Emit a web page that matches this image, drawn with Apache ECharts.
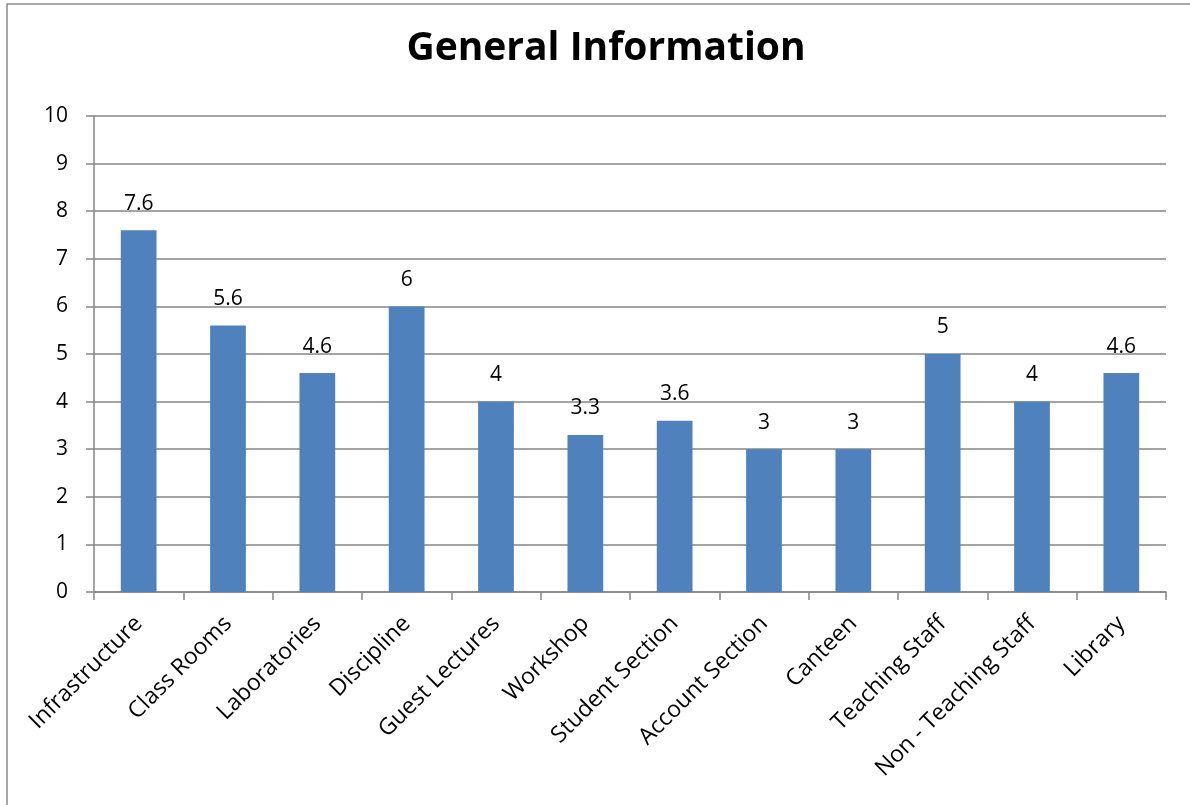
<!DOCTYPE html>
<html>
<head>
<meta charset="utf-8">
<script src="https://cdn.jsdelivr.net/npm/echarts@6/dist/echarts.min.js"></script>
<style>
html,body{margin:0;padding:0;background:#fff;}
#chart{width:1190px;height:805px;}
</style>
</head>
<body>
<div id="chart"></div>
<script>
const categories = ["Infrastructure","Class Rooms","Laboratories","Discipline","Guest Lectures","Workshop","Student Section","Account Section","Canteen","Teaching Staff","Non - Teaching Staff","Library"];
const values = [7.6, 5.6, 4.6, 6, 4, 3.3, 3.6, 3, 3, 5, 4, 4.6];
const yTicks = [0,1,2,3,4,5,6,7,8,9,10];

const chart = echarts.init(document.getElementById('chart'), null, {renderer:'canvas'});
const font = '"Open Sans", "Liberation Sans", sans-serif';
chart.setOption({
  backgroundColor:'#ffffff',
  animation:false,
  title:{
    text:'General Information',
    left:601, top:24, textAlign:'center',
    textStyle:{fontFamily:font, fontSize:39, fontWeight:'bold', color:'#000'}
  },
  graphic:[{
    type:'rect', shape:{x:7, y:4, width:1250, height:900},
    style:{fill:null, stroke:'#8c8c8c', lineWidth:1.5}, silent:true
  }],
  grid:{left:94, right:24, top:116, bottom:213, containLabel:false},
  xAxis:{
    type:'category', data:categories,
    axisLine:{lineStyle:{color:'#868686', width:1.5}},
    axisTick:{show:true, length:8, lineStyle:{color:'#868686', width:1.5}},
    axisLabel:{rotate:45, interval:0, margin:28, fontFamily:font, fontSize:23, color:'#000'}
  },
  yAxis:{
    type:'value', min:0, max:10, interval:1,
    axisLine:{show:true, lineStyle:{color:'#868686', width:1.5}},
    axisTick:{show:true, length:8, lineStyle:{color:'#868686', width:1.5}},
    axisLabel:{margin:26, fontFamily:font, fontSize:21, color:'#000',
      formatter:v => yTicks.includes(v) ? String(v) : ''},
    splitLine:{show:true, lineStyle:{color:'#868686', width:1.5}}
  },
  series:[{
    type:'bar', data:values, barWidth:'40%',
    itemStyle:{color:'#4f81bd'},
    label:{show:true, position:'top', distance:16, fontFamily:font, fontSize:21, color:'#000'}
  }]
});
</script>
</body>
</html>
